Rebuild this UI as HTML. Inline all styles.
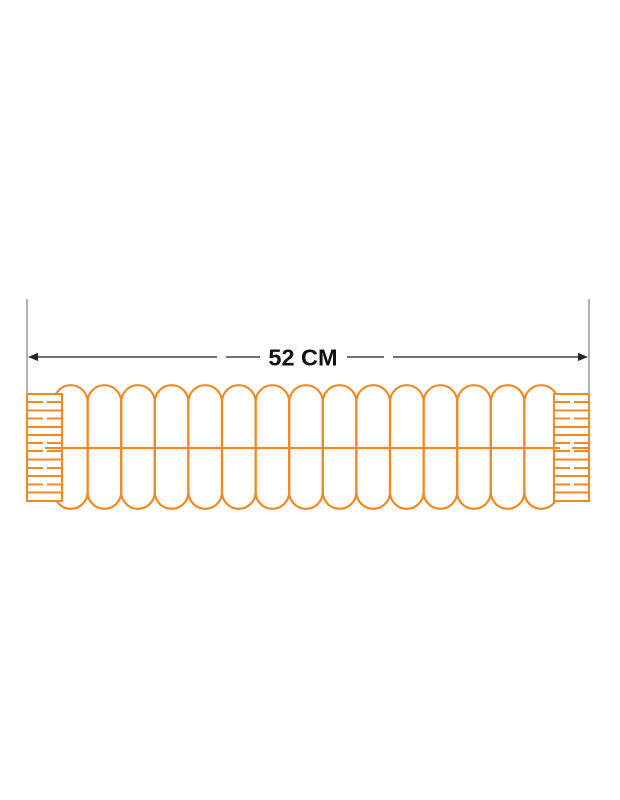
<!DOCTYPE html>
<html><head><meta charset="utf-8"><style>html,body{margin:0;padding:0;background:#fff}svg{display:block}</style></head>
<body>
<svg width="620" height="800" viewBox="0 0 620 800" xmlns="http://www.w3.org/2000/svg">
<g stroke="#999" stroke-width="1.5"><line x1="27" y1="299" x2="27" y2="394"/><line x1="589" y1="299" x2="589" y2="394"/></g>
<g stroke="#444" stroke-width="1.5">
<line x1="36" y1="357" x2="217" y2="357"/><line x1="226" y1="357" x2="260" y2="357"/>
<line x1="347" y1="357" x2="384" y2="357"/><line x1="393" y1="357" x2="580" y2="357"/>
</g>
<polygon points="28,357 38,353 38,361" fill="#222"/>
<polygon points="588,357 578,353 578,361" fill="#222"/>
<text x="303" y="365.5" text-anchor="middle" font-family="Liberation Sans, sans-serif" font-weight="bold" font-size="23.5" fill="#111">52 CM</text>
<g fill="none" stroke="#f08a24" stroke-width="2.2">
<path id="c" d="M54,402 A16.8,16.8 0 0 1 87.6,402 L87.6,492 A16.8,16.8 0 0 1 54,492 Z"/>
<use href="#c" x="33.6"/><use href="#c" x="67.2"/><use href="#c" x="100.8"/><use href="#c" x="134.4"/>
<use href="#c" x="168"/><use href="#c" x="201.6"/><use href="#c" x="235.2"/><use href="#c" x="268.8"/>
<use href="#c" x="302.4"/><use href="#c" x="336"/><use href="#c" x="369.6"/><use href="#c" x="403.2"/>
<use href="#c" x="436.8"/><use href="#c" x="470.4"/>
<line x1="55" y1="448" x2="558" y2="448"/>
</g>
<g id="conn" stroke="#f08a24" stroke-width="2" fill="none">
<rect x="27" y="394" width="35" height="107" fill="#fff"/>
<line x1="27" y1="410.5" x2="62" y2="410.5"/><line x1="27" y1="427" x2="62" y2="427"/>
<line x1="27" y1="435" x2="62" y2="435"/><line x1="27" y1="459.5" x2="62" y2="459.5"/>
<line x1="27" y1="476" x2="62" y2="476"/><line x1="27" y1="492.5" x2="62" y2="492.5"/>
<g stroke-dasharray="16 4">
<line x1="27" y1="402" x2="62" y2="402"/><line x1="27" y1="418.5" x2="62" y2="418.5"/>
<line x1="27" y1="443" x2="62" y2="443"/><line x1="27" y1="451" x2="62" y2="451"/>
<line x1="27" y1="468" x2="62" y2="468"/><line x1="27" y1="484.5" x2="62" y2="484.5"/>
</g>
<line x1="45" y1="448" x2="62" y2="448"/>
</g>
<use href="#conn" x="527"/>
<line x1="554" y1="448" x2="560" y2="448" stroke="#f08a24" stroke-width="2"/>
</svg>
</body></html>
